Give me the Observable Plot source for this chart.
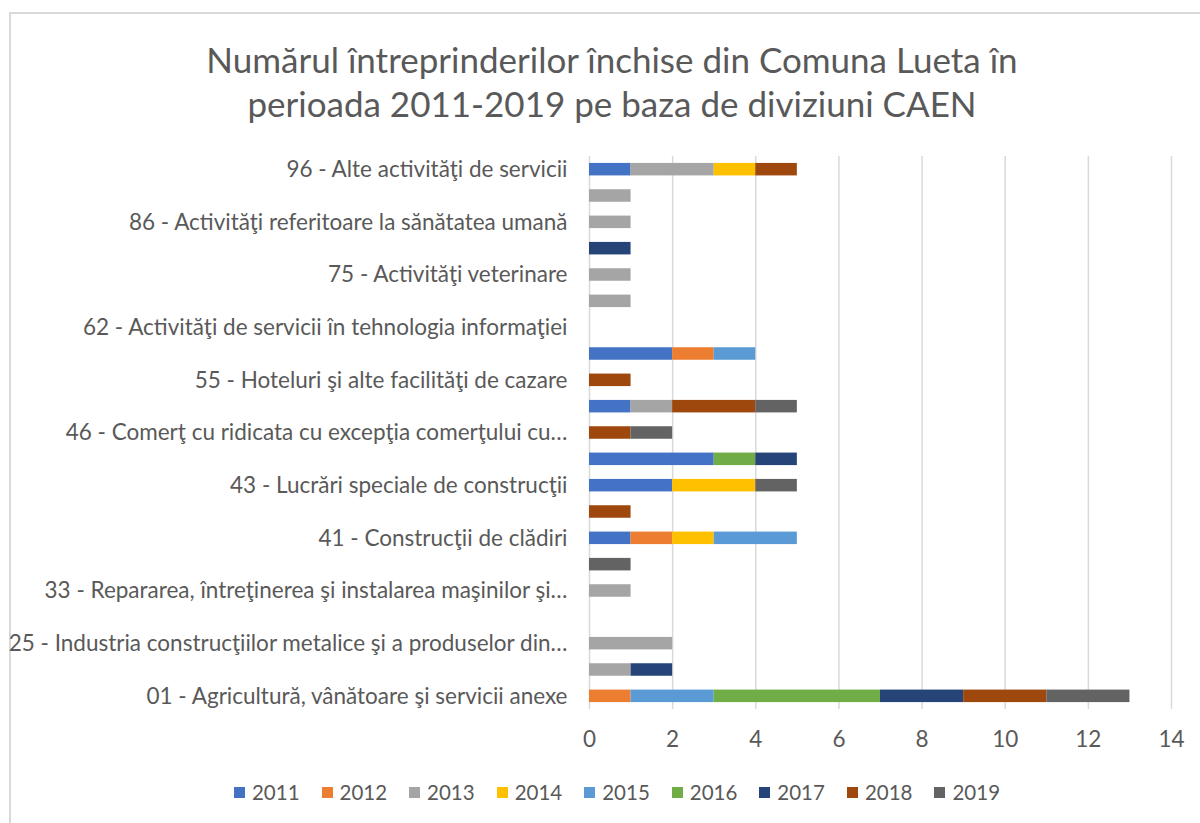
<!DOCTYPE html>
<html>
<head>
<meta charset="utf-8">
<script src="https://cdn.jsdelivr.net/npm/d3@7"></script>
<script src="https://cdn.jsdelivr.net/npm/@observablehq/plot@0.6"></script>
<style>
  html, body { margin: 0; padding: 0; background: #fff; }
  #wrap { position: relative; width: 1200px; height: 823px; overflow: hidden; font-family: Lato, "Open Sans", sans-serif; color: #595959; }
  #border { position: absolute; left: 9px; top: 12px; width: 1300px; height: 900px; border-left: 2px solid #d9d9d9; border-top: 2px solid #d9d9d9; }
  #title { position: absolute; left: 0; top: 37px; width: 1224px; text-align: center; font-size: 35px; line-height: 44px; color: #595959; }
  #chart { position: absolute; left: 0; top: 130px; }
  #legend { position: absolute; left: 0; top: 780px; width: 1234px; display: flex; justify-content: center; font-size: 20.5px; color: #595959; }
  .item { display: flex; align-items: center; margin: 0 11px; }
  .sw { width: 11px; height: 11px; margin-right: 7px; }
</style>
</head>
<body>
<div id="wrap">
  <div id="border"></div>
  <div id="title">Numărul întreprinderilor închise din Comuna Lueta în<br>perioada 2011-2019 pe baza de diviziuni CAEN</div>
  <div id="chart"></div>
  <div id="legend"></div>
</div>
<script>
// Categories from bottom to top (every other label is hidden, as in the original)
const categories = [
  "01 - Agricultură, vânătoare şi servicii anexe",
  "02 - Silvicultură şi exploatare forestieră",
  "25 - Industria construcţiilor metalice şi a produselor din…",
  "31 - Fabricarea de mobilă",
  "33 - Repararea, întreţinerea şi instalarea maşinilor şi…",
  "38 - Colectarea, tratarea şi eliminarea deşeurilor",
  "41 - Construcţii de clădiri",
  "42 - Lucrări de geniu civil",
  "43 - Lucrări speciale de construcţii",
  "45 - Comerţ cu ridicata şi cu amănuntul, întreţinerea şi repararea autovehiculelor",
  "46 - Comerţ cu ridicata cu excepţia comerţului cu…",
  "47 - Comerţ cu amănuntul, cu excepţia autovehiculelor",
  "55 - Hoteluri şi alte facilităţi de cazare",
  "56 - Restaurante şi alte activităţi de alimentaţie",
  "62 - Activităţi de servicii în tehnologia informaţiei",
  "70 - Activităţi ale direcţiilor (centralelor)",
  "75 - Activităţi veterinare",
  "81 - Activităţi de peisagistică",
  "86 - Activităţi referitoare la sănătatea umană",
  "95 - Reparaţii de calculatoare şi bunuri personale",
  "96 - Alte activităţi de servicii"
];
const years = ["2011", "2012", "2013", "2014", "2015", "2016", "2017", "2018", "2019"];
const colors = ["#4472C4", "#ED7D31", "#A5A5A5", "#FFC000", "#5B9BD5", "#70AD47", "#264478", "#9E480E", "#636363"];

// values per year, in category order (bottom to top)
const v2011 = [0, 0, 0, 0, 0, 0, 1, 0, 2, 3, 0, 1, 0, 2, 0, 0, 0, 0, 0, 0, 1];
const v2012 = [1, 0, 0, 0, 0, 0, 1, 0, 0, 0, 0, 0, 0, 1, 0, 0, 0, 0, 0, 0, 0];
const v2013 = [0, 1, 2, 0, 1, 0, 0, 0, 0, 0, 0, 1, 0, 0, 0, 1, 1, 0, 1, 1, 2];
const v2014 = [0, 0, 0, 0, 0, 0, 1, 0, 2, 0, 0, 0, 0, 0, 0, 0, 0, 0, 0, 0, 1];
const v2015 = [2, 0, 0, 0, 0, 0, 2, 0, 0, 0, 0, 0, 0, 1, 0, 0, 0, 0, 0, 0, 0];
const v2016 = [4, 0, 0, 0, 0, 0, 0, 0, 0, 1, 0, 0, 0, 0, 0, 0, 0, 0, 0, 0, 0];
const v2017 = [2, 1, 0, 0, 0, 0, 0, 0, 0, 1, 0, 0, 0, 0, 0, 0, 0, 1, 0, 0, 0];
const v2018 = [2, 0, 0, 0, 0, 0, 0, 1, 0, 0, 1, 2, 1, 0, 0, 0, 0, 0, 0, 0, 1];
const v2019 = [2, 0, 0, 0, 0, 1, 0, 0, 1, 0, 1, 1, 0, 0, 0, 0, 0, 0, 0, 0, 0];
const xTicks = [0, 2, 4, 6, 8, 10, 12, 14];

const series = [v2011, v2012, v2013, v2014, v2015, v2016, v2017, v2018, v2019];
const table = [];
years.forEach((yr, j) => {
  categories.forEach((c, i) => {
    table.push({category: c, year: yr, value: series[j][i]});
  });
});
const shown = new Set(categories.filter((c, i) => i % 2 === 0));

const chart = Plot.plot({
  width: 1200,
  height: 640,
  marginLeft: 589,
  marginRight: 29,
  marginTop: 26,
  marginBottom: 61,
  style: {fontFamily: "Lato, 'Open Sans', sans-serif", fontSize: "22.5px", color: "#595959", background: "transparent"},
  x: {domain: [0, 14], ticks: xTicks, label: null},
  y: {domain: categories.slice().reverse(), paddingInner: 0.525, paddingOuter: 0.2625, round: false, label: null},
  color: {domain: years, range: colors},
  marks: [
    Plot.ruleX(xTicks, {stroke: "#d9d9d9", strokeWidth: 1.5}),
    Plot.barX(table.filter(d => d.value > 0), Plot.stackX({order: years, x: "value", y: "category", fill: "year", z: "year"})),
    Plot.axisX({ticks: xTicks, tickSize: 0, tickPadding: 22, fill: "#595959", label: null}),
    Plot.axisY({tickSize: 0, tickPadding: 22, fill: "#595959", tickFormat: d => shown.has(d) ? d : "", label: null})
  ]
});
document.getElementById("chart").appendChild(chart);

const legend = document.getElementById("legend");
years.forEach((yr, i) => {
  const it = document.createElement("div");
  it.className = "item";
  it.innerHTML = `<span class="sw" style="background:${colors[i]}"></span><span>${yr}</span>`;
  legend.appendChild(it);
});
</script>
</body>
</html>
